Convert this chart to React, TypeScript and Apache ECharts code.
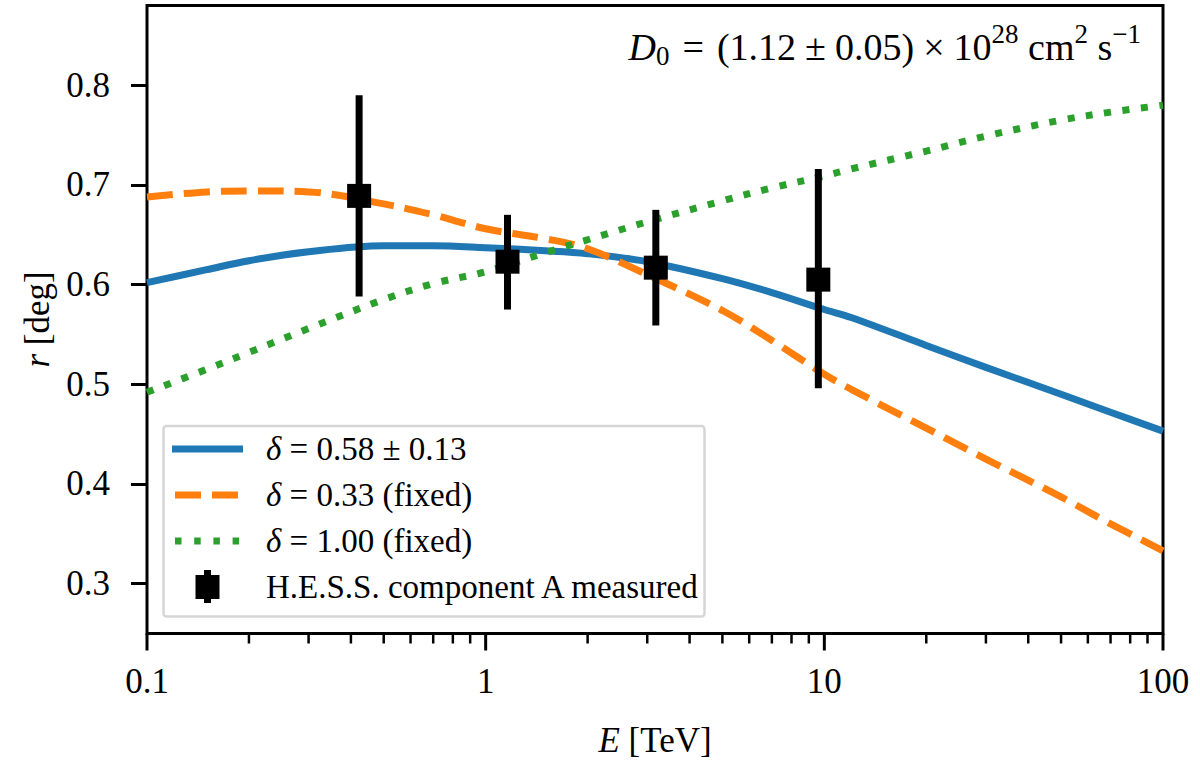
import { useEffect, useRef } from "react";
import * as echarts from "echarts";

const energies = [0.1, 0.15, 0.2, 0.3, 0.5, 0.7, 1, 1.5, 2, 3, 5, 7, 10, 12, 20, 30, 50, 70, 100];
// delta = 0.58 +- 0.13 (fit)
const fitValues = [0.602, 0.615, 0.624, 0.633, 0.639, 0.639, 0.637, 0.634, 0.631, 0.623, 0.606, 0.592, 0.575, 0.567, 0.539, 0.517, 0.490, 0.472, 0.453];
// delta = 0.33 (fixed)
const slowValues = [0.688, 0.693, 0.694, 0.693, 0.681, 0.670, 0.656, 0.646, 0.636, 0.610, 0.574, 0.544, 0.510, 0.495, 0.456, 0.425, 0.387, 0.360, 0.333];
// delta = 1.00 (fixed)
const fastValues = [0.492, 0.515, 0.532, 0.556, 0.585, 0.601, 0.613, 0.632, 0.645, 0.663, 0.684, 0.697, 0.709, 0.716, 0.734, 0.749, 0.765, 0.773, 0.780];

// H.E.S.S. component A
const hessE = [0.423, 1.16, 3.18, 9.6];
const hessR = [0.689, 0.623, 0.617, 0.605];
const hessLow = [0.588, 0.575, 0.559, 0.496];
const hessHigh = [0.790, 0.670, 0.675, 0.716];

const xMajorTicks = [0.1, 1, 10, 100];
const xMajorLabels = ["0.1", "1", "10", "100"];
const xMinorTicks = [0.2, 0.3, 0.4, 0.5, 0.6, 0.7, 0.8, 0.9, 2, 3, 4, 5, 6, 7, 8, 9, 20, 30, 40, 50, 60, 70, 80, 90];
const yTicks = [0.3, 0.4, 0.5, 0.6, 0.7, 0.8];

const legendLabels = ["{i|δ} = 0.58 ± 0.13", "{i|δ} = 0.33 (fixed)", "{i|δ} = 1.00 (fixed)", "H.E.S.S. component A measured"];

const BLUE = "#1f77b4";
const ORANGE = "#ff7f0e";
const GREEN = "#2ca02c";
const SERIF = '"Liberation Serif", "Times New Roman", serif';

function textWidth(text: string, font: string) {
  const ctx = document.createElement("canvas").getContext("2d")!;
  ctx.font = font;
  return ctx.measureText(text).width;
}

// D0 = (1.12 ± 0.05) × 10^28 cm^2 s^-1, laid out piece by piece
function annotation(rightX: number, midY: number) {
  const big = 38;
  const small = 27;
  // pad: extra space added on both sides (math-style operator spacing)
  const parts = [
    { t: "D", size: big, italic: true, dy: 0, pad: 0 },
    { t: "0", size: small, italic: false, dy: 9, pad: 0 },
    { t: "=", size: big, italic: false, dy: 0, pad: 13 },
    { t: "(1.12", size: big, italic: false, dy: 0, pad: 0 },
    { t: "±", size: big, italic: false, dy: 0, pad: 9 },
    { t: "0.05)", size: big, italic: false, dy: 0, pad: 0 },
    { t: "×", size: big, italic: false, dy: 0, pad: 9 },
    { t: "10", size: big, italic: false, dy: 0, pad: 0 },
    { t: "28", size: small, italic: false, dy: -13, pad: 0 },
    { t: " cm", size: big, italic: false, dy: 0, pad: 0 },
    { t: "2", size: small, italic: false, dy: -13, pad: 0 },
    { t: " s", size: big, italic: false, dy: 0, pad: 0 },
    { t: "−1", size: small, italic: false, dy: -13, pad: 0 },
  ];
  const widths = parts.map(
    (p) => textWidth(p.t, `${p.italic ? "italic " : ""}${p.size}px "Liberation Serif"`) + 2 * p.pad
  );
  const total = widths.reduce((a, b) => a + b, 0);
  let x = rightX - total;
  return parts.map((p, i) => {
    const el = {
      type: "text",
      x: x + p.pad,
      y: midY + p.dy,
      silent: true,
      z: 100,
      style: {
        text: p.t,
        fontSize: p.size,
        fontFamily: SERIF,
        fontStyle: p.italic ? "italic" : "normal",
        fill: "#000",
        align: "left",
        verticalAlign: "middle",
      },
    };
    x += widths[i];
    return el;
  });
}

export default function App() {
  const chartRef = useRef<HTMLDivElement>(null);

  useEffect(() => {
    document.body.style.margin = "0";
    if (!chartRef.current) return;
    const chart = echarts.init(chartRef.current, null, { renderer: "svg" });

    chart.setOption({
      animation: false,
      grid: {
        left: 147,
        right: 37,
        top: 5.5,
        bottom: 126.5,
        show: true,
        borderColor: "#000",
        borderWidth: 3,
        backgroundColor: "transparent",
        outerBoundsMode: "none",
      },
      xAxis: {
        type: "log",
        logBase: 10,
        min: 0.1,
        max: 100,
        axisLine: { show: false },
        axisTick: { show: false },
        axisLabel: { show: false },
        splitLine: { show: false },
      },
      yAxis: {
        type: "value",
        min: 0.25,
        max: 0.88,
        axisLine: { show: false },
        splitLine: { show: false },
        axisTick: {
          show: true,
          customValues: yTicks,
          length: 16,
          lineStyle: { color: "#000", width: 3 },
        },
        axisLabel: {
          customValues: yTicks,
          formatter: (v: number) => v.toFixed(1),
          margin: 37,
          fontSize: 35,
          fontFamily: SERIF,
          color: "#000",
        },
      },
      series: [
        {
          type: "line",
          data: energies.map((e, i) => [e, fitValues[i]]),
          showSymbol: false,
          smooth: 0.35,
          lineStyle: { color: BLUE, width: 7 },
        },
        {
          type: "line",
          data: energies.map((e, i) => [e, slowValues[i]]),
          showSymbol: false,
          smooth: 0.35,
          lineStyle: { color: ORANGE, width: 7, type: [26, 11], cap: "butt" },
        },
        {
          type: "line",
          data: energies.map((e, i) => [e, fastValues[i]]),
          showSymbol: false,
          smooth: 0.35,
          lineStyle: { color: GREEN, width: 7, type: [7, 11.5], cap: "butt" },
        },
        {
          type: "custom",
          data: hessE.map((e, i) => [e, hessR[i], hessLow[i], hessHigh[i]]),
          z: 5,
          renderItem: (_params: unknown, api: any) => {
            const c = api.coord([api.value(0), api.value(1)]);
            const lo = api.coord([api.value(0), api.value(2)]);
            const hi = api.coord([api.value(0), api.value(3)]);
            return {
              type: "group",
              children: [
                {
                  type: "line",
                  shape: { x1: c[0], y1: hi[1], x2: c[0], y2: lo[1] },
                  style: { stroke: "#000", lineWidth: 7 },
                },
                {
                  type: "rect",
                  shape: { x: c[0] - 12, y: c[1] - 12, width: 24, height: 24 },
                  style: { fill: "#000" },
                },
              ],
            };
          },
        },
      ],
    });

    // log-axis ticks and labels, placed through the axis scale
    const bottom = chart.convertToPixel({ yAxisIndex: 0 }, 0.25) as number;
    const graphics: any[] = [];
    xMajorTicks.forEach((v, i) => {
      const px = chart.convertToPixel({ xAxisIndex: 0 }, v) as number;
      graphics.push({
        type: "line",
        silent: true,
        shape: { x1: px, y1: bottom, x2: px, y2: bottom + 17 },
        style: { stroke: "#000", lineWidth: 3 },
      });
      graphics.push({
        type: "text",
        x: px,
        y: 681,
        silent: true,
        style: {
          text: xMajorLabels[i],
          fontSize: 35,
          fontFamily: SERIF,
          fill: "#000",
          align: "center",
          verticalAlign: "middle",
        },
      });
    });
    xMinorTicks.forEach((v) => {
      const px = chart.convertToPixel({ xAxisIndex: 0 }, v) as number;
      graphics.push({
        type: "line",
        silent: true,
        shape: { x1: px, y1: bottom, x2: px, y2: bottom + 10 },
        style: { stroke: "#000", lineWidth: 2.5 },
      });
    });

    // axis titles
    graphics.push({
      type: "text",
      x: 655,
      y: 740,
      silent: true,
      style: {
        text: "{i|E} [TeV]",
        rich: { i: { fontStyle: "italic", fontSize: 35, fontFamily: SERIF } },
        fontSize: 35,
        fontFamily: SERIF,
        fill: "#000",
        align: "center",
        verticalAlign: "middle",
      },
    });
    graphics.push({
      type: "text",
      x: 37,
      y: 319.5,
      rotation: Math.PI / 2,
      silent: true,
      style: {
        text: "{i|r} [deg]",
        rich: { i: { fontStyle: "italic", fontSize: 35, fontFamily: SERIF } },
        fontSize: 35,
        fontFamily: SERIF,
        fill: "#000",
        align: "center",
        verticalAlign: "middle",
      },
    });

    // legend box
    const rowY = [449, 495, 541, 587];
    graphics.push({
      type: "rect",
      silent: true,
      z: 90,
      shape: { x: 163.5, y: 426, width: 541, height: 190.5, r: 3 },
      style: { fill: "rgba(255,255,255,0.8)", stroke: "#d6d6d6", lineWidth: 2.5 },
    });
    graphics.push({
      type: "line",
      silent: true,
      z: 91,
      shape: { x1: 172, y1: rowY[0], x2: 243, y2: rowY[0] },
      style: { stroke: BLUE, lineWidth: 7 },
    });
    graphics.push({
      type: "line",
      silent: true,
      z: 91,
      shape: { x1: 175, y1: rowY[1], x2: 243, y2: rowY[1] },
      style: { stroke: ORANGE, lineWidth: 7, lineDash: [26, 11] },
    });
    graphics.push({
      type: "line",
      silent: true,
      z: 91,
      shape: { x1: 175, y1: rowY[2], x2: 243, y2: rowY[2] },
      style: { stroke: GREEN, lineWidth: 7, lineDash: [6.5, 12.7] },
    });
    graphics.push({
      type: "line",
      silent: true,
      z: 91,
      shape: { x1: 207.5, y1: rowY[3] - 17, x2: 207.5, y2: rowY[3] + 16 },
      style: { stroke: "#000", lineWidth: 7 },
    });
    graphics.push({
      type: "rect",
      silent: true,
      z: 91,
      shape: { x: 195.5, y: rowY[3] - 12, width: 24, height: 24 },
      style: { fill: "#000" },
    });
    legendLabels.forEach((label, i) => {
      graphics.push({
        type: "text",
        x: 266,
        y: rowY[i],
        silent: true,
        z: 91,
        style: {
          text: label,
          rich: { i: { fontStyle: "italic", fontSize: 33, fontFamily: SERIF } },
          fontSize: 33,
          fontFamily: SERIF,
          fill: "#000",
          align: "left",
          verticalAlign: "middle",
        },
      });
    });

    graphics.push(...annotation(1141, 47));

    chart.setOption({ graphic: graphics });

    return () => {
      chart.dispose();
    };
  }, []);

  return <div ref={chartRef} style={{ width: 1200, height: 760 }} />;
}
